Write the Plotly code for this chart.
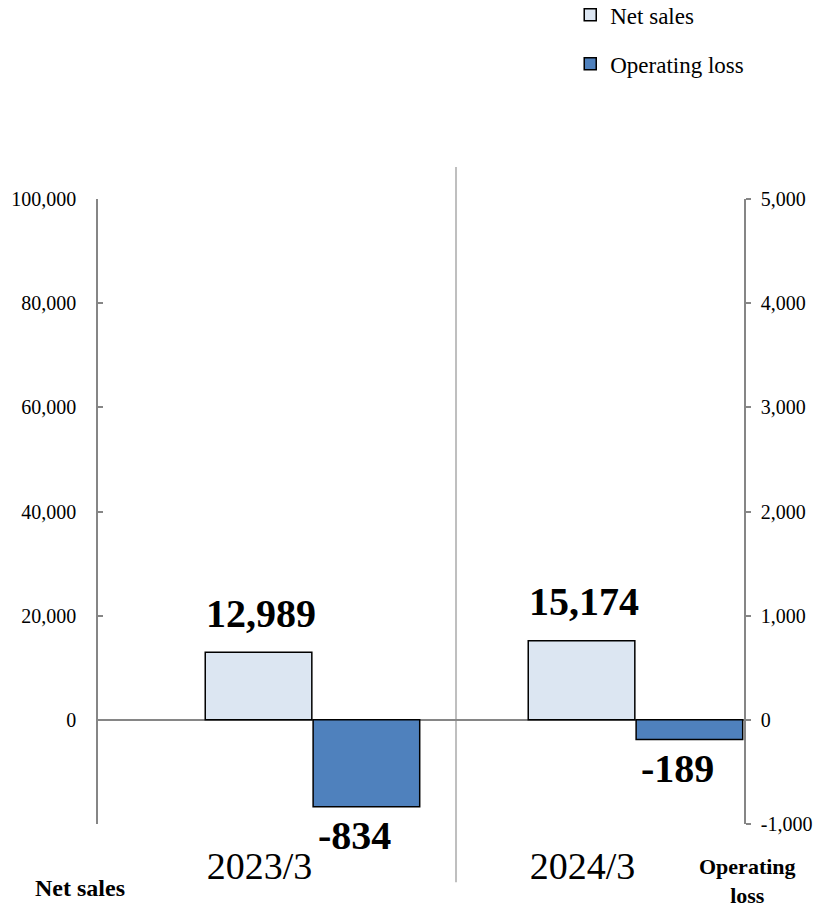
import plotly.graph_objects as go

categories = ["2023/3", "2024/3"]
net_sales = [12989, 15174]
operating_loss = [-834, -189]

left_tickvals = [-20000, 0, 20000, 40000, 60000, 80000, 100000]
left_ticktext = ["", "0", "20,000", "40,000", "60,000", "80,000", "100,000"]
right_tickvals = [-1000, 0, 1000, 2000, 3000, 4000, 5000]
right_ticktext = ["-1,000", "0", "1,000", "2,000", "3,000", "4,000", "5,000"]

FONT = "Liberation Serif"
xs = list(range(len(categories)))

fig = go.Figure()
fig.add_trace(go.Bar(
    x=xs, y=net_sales, name="Net sales", yaxis="y",
    width=0.33, offset=-0.168,
    marker=dict(color="#DCE6F2", line=dict(color="#000000", width=1.5)),
    legendgroup="a",
))
fig.add_trace(go.Bar(
    x=xs, y=operating_loss, name="Operating loss", yaxis="y2",
    width=0.33, offset=0.166,
    marker=dict(color="#4F81BD", line=dict(color="#000000", width=1.5)),
    legendgroup="b",
))

annotations = []
for i, v in enumerate(net_sales):
    annotations.append(dict(x=i + 0.005, y=v, xref="x", yref="y", text=f"<b>{v:,}</b>",
                            showarrow=False, yanchor="middle", yshift=39,
                            font=dict(family=FONT, size=40, color="#000")))
for i, v in enumerate(operating_loss):
    annotations.append(dict(x=i + 0.331, y=v, xref="x", yref="y2", text=f"<b>{v:,}</b>",
                            showarrow=False, yanchor="middle", yshift=-29, xshift=-12,
                            font=dict(family=FONT, size=40, color="#000")))
annotations.append(dict(x=-0.028, y=-0.102, xref="paper", yref="paper", text="<b>Net sales</b>",
                        showarrow=False, xanchor="center", yanchor="middle",
                        font=dict(family=FONT, size=24, color="#000")))
annotations.append(dict(x=1.006, y=-0.091, xref="paper", yref="paper", text="<b>Operating<br>loss</b>",
                        showarrow=False, xanchor="center", yanchor="middle",
                        font=dict(family=FONT, size=22, color="#000")))

fig.update_layout(
    width=817, height=909,
    margin=dict(l=98, r=73, t=199, b=85, autoexpand=False),
    paper_bgcolor="white", plot_bgcolor="white",
    barmode="overlay",
    font=dict(family=FONT, color="#000"),
    xaxis=dict(
        tickmode="array", tickvals=xs, ticktext=categories,
        range=[-0.5, len(categories) - 0.5],
        showgrid=False, zeroline=False, showline=False, ticks="",
        tickfont=dict(family=FONT, size=38, color="#000"),
        ticklabelstandoff=16, automargin=False,
    ),
    yaxis=dict(
        range=[-20000, 100000], tickmode="array",
        tickvals=left_tickvals, ticktext=left_ticktext,
        showgrid=False, zeroline=True, zerolinecolor="#868686", zerolinewidth=2,
        showline=True, linecolor="#868686", linewidth=1.5,
        ticks="inside", ticklen=5, tickcolor="#868686", tickwidth=1.5,
        tickfont=dict(family=FONT, size=20, color="#000"),
        ticklabelstandoff=16, automargin=False,
    ),
    yaxis2=dict(
        range=[-1000, 5000], overlaying="y", side="right", tickmode="array",
        tickvals=right_tickvals, ticktext=right_ticktext,
        showgrid=False, zeroline=False,
        showline=True, linecolor="#868686", linewidth=1.5,
        ticks="outside", ticklen=5, tickcolor="#868686", tickwidth=1.5,
        tickfont=dict(family=FONT, size=20, color="#000"),
        ticklabelstandoff=6, automargin=False,
    ),
    legend=dict(
        x=0.731, y=1.329, xanchor="left", yanchor="top",
        font=dict(family="Liberation Serif, serif", size=23, color="#000"),
        tracegroupgap=16, traceorder="grouped",
        bgcolor="rgba(0,0,0,0)",
    ),
    annotations=annotations,
    shapes=[dict(type="line", xref="paper", yref="paper", x0=0.5542, x1=0.5542,
                 y0=-0.093, y1=1.0512, line=dict(color="#BFBFBF", width=2), layer="below")],
)

fig.write_html("out.html")
